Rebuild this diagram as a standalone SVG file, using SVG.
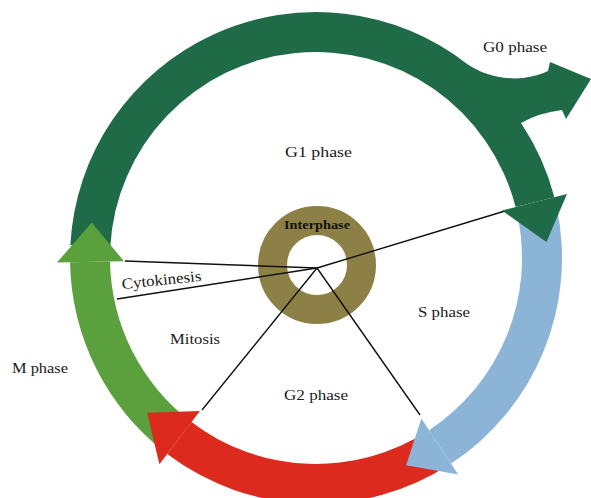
<svg xmlns="http://www.w3.org/2000/svg" width="591" height="498" viewBox="0 0 591 498">
<style>
.lbl{font-family:"Liberation Serif","Times New Roman",serif;font-size:15.5px;fill:#1a1a1a}
.ln{stroke:#111;stroke-width:1.4;fill:none}
</style>
<rect width="591" height="498" fill="#fff"/>
<g id="g1-arrow-body">
<path fill="#1f6a47" d="M 70.34 245.12 A 246 246 0 0 1 467.45 64.15 C 482 74 502 80 523 78 Q 538 76 548 71 L 550 62 L 591 79 L 566 119 L 562 110 Q 538 113 521 123 A 246 246 0 0 1 554.38 197.24 L 515.62 207.12 A 206 206 0 0 0 110.28 247.22 Z"/>
</g>
<g id="s-arrow-body">
<path fill="#8cb4d7" d="M 556.62 206.85 A 246 246 0 0 1 451.06 463.61 L 429.10 430.18 A 206 206 0 0 0 517.50 215.17 Z"/>
</g>
<g id="g2-arrow-body">
<path fill="#dc2a1e" d="M 449.98 464.31 A 246 246 0 0 1 167.27 453.95 L 191.45 422.09 A 206 206 0 0 0 428.20 430.77 Z"/>
</g>
<g id="m-arrow-body">
<path fill="#5aa03c" d="M 166.25 453.16 A 246 246 0 0 1 70.04 262.29 L 110.03 261.60 A 206 206 0 0 0 190.60 421.43 Z"/>
</g>
<g id="interphase">
<circle cx="317" cy="265" r="44.5" fill="none" stroke="#8c8046" stroke-width="29"/>
<text x="317" y="229" text-anchor="middle" font-family="'Liberation Serif','Times New Roman',serif" font-size="12.5" font-weight="bold" fill="#111" textLength="66" lengthAdjust="spacingAndGlyphs">Interphase</text>
</g>
<g id="connectors">
<line class="ln" x1="317" y1="268" x2="125" y2="261"/>
<line class="ln" x1="317" y1="268" x2="117" y2="299"/>
<line class="ln" x1="317" y1="268" x2="202" y2="410"/>
<line class="ln" x1="317" y1="268" x2="420" y2="415"/>
<line class="ln" x1="317" y1="268" x2="505" y2="211"/>
</g>
<g id="g1-arrow-head">
<path fill="#1f6a47" d="M 566.98 194.03 L 546.44 241.89 L 502.05 210.58 Z"/>
</g>
<g id="s-arrow-head">
<path fill="#8cb4d7" d="M 458.20 474.47 L 406.12 465.26 L 421.41 418.48 Z"/>
</g>
<g id="g2-arrow-head">
<path fill="#dc2a1e" d="M 159.41 464.30 L 147.16 412.71 L 199.92 410.93 Z"/>
</g>
<g id="m-arrow-head">
<path fill="#5aa03c" d="M 57.04 262.52 L 91.79 222.49 L 124.03 261.35 Z"/>
</g>
<g id="labels">
<text class="lbl" x="483" y="52" textLength="64" lengthAdjust="spacingAndGlyphs">G0 phase</text>
<text class="lbl" x="285" y="157" textLength="67" lengthAdjust="spacingAndGlyphs">G1 phase</text>
<text class="lbl" x="418" y="317" textLength="52" lengthAdjust="spacingAndGlyphs">S phase</text>
<text class="lbl" x="284" y="400" textLength="64" lengthAdjust="spacingAndGlyphs">G2 phase</text>
<text class="lbl" x="170" y="344" textLength="50" lengthAdjust="spacingAndGlyphs">Mitosis</text>
<text class="lbl" x="12" y="373" textLength="56" lengthAdjust="spacingAndGlyphs">M phase</text>
<text class="lbl" x="162" y="285" text-anchor="middle" transform="rotate(-6 162 285)" textLength="80" lengthAdjust="spacingAndGlyphs">Cytokinesis</text>
</g>
</svg>
